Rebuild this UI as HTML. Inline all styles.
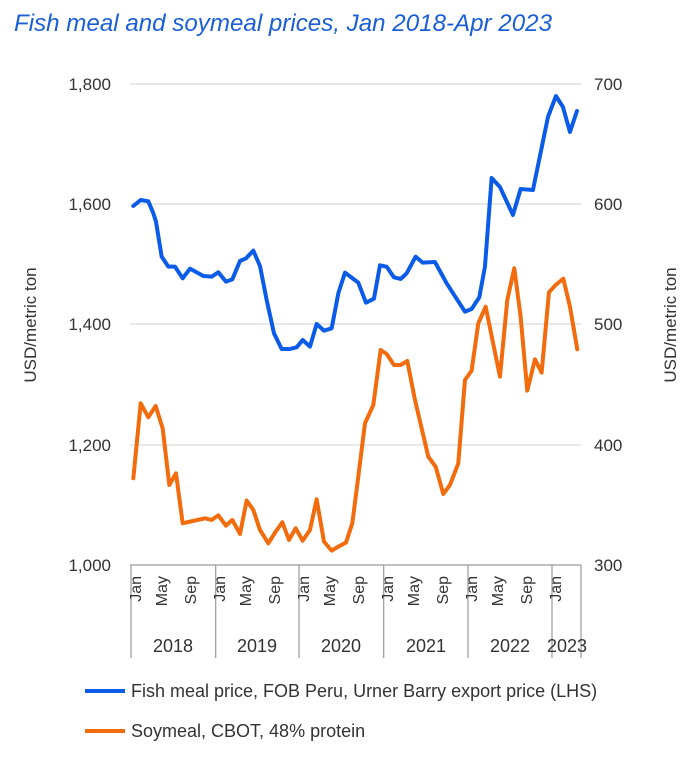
<!DOCTYPE html>
<html><head><meta charset="utf-8"><style>
body{margin:0;background:#fff;width:696px;height:756px;overflow:hidden}
svg text{font-family:"Liberation Sans",sans-serif;fill:#333}
</style></head><body>
<svg width="696" height="756" viewBox="0 0 696 756" xmlns="http://www.w3.org/2000/svg">
<text x="14" y="31" textLength="538" lengthAdjust="spacingAndGlyphs" style="font-size:24px;font-style:italic;fill:#1a5fd6">Fish meal and soymeal prices, Jan 2018-Apr 2023</text>
<g stroke="#d9d9d9" stroke-width="1.2">
<line x1="130" y1="84" x2="581" y2="84"/>
<line x1="130" y1="204" x2="581" y2="204"/>
<line x1="130" y1="324" x2="581" y2="324"/>
<line x1="130" y1="445" x2="581" y2="445"/>
</g>
<g stroke="#999" stroke-width="1.2">
<line x1="130" y1="565" x2="581" y2="565"/>
<line x1="131" y1="565" x2="131" y2="658"/>
<line x1="215.7" y1="565" x2="215.7" y2="658"/>
<line x1="299" y1="565" x2="299" y2="658"/>
<line x1="383.7" y1="565" x2="383.7" y2="658"/>
<line x1="468" y1="565" x2="468" y2="658"/>
<line x1="552" y1="565" x2="552" y2="658"/>
<line x1="581" y1="565" x2="581" y2="658"/>
</g>
<g style="font-size:17px" text-anchor="end">
<text x="111" y="90">1,800</text><text x="111" y="210">1,600</text><text x="111" y="330">1,400</text><text x="111" y="451">1,200</text><text x="111" y="571">1,000</text>
</g>
<g style="font-size:17px">
<text x="594" y="90">700</text><text x="594" y="210">600</text><text x="594" y="330">500</text><text x="594" y="451">400</text><text x="594" y="571">300</text>
</g>
<text transform="translate(36,325) rotate(-90)" text-anchor="middle" style="font-size:17px">USD/metric ton</text>
<text transform="translate(676,325) rotate(-90)" text-anchor="middle" style="font-size:17px">USD/metric ton</text>
<g style="font-size:16px" text-anchor="end">
<text transform="translate(141,576) rotate(-90)">Jan</text><text transform="translate(167,576) rotate(-90)">May</text><text transform="translate(196,576) rotate(-90)">Sep</text>
<text transform="translate(225,576) rotate(-90)">Jan</text><text transform="translate(251,576) rotate(-90)">May</text><text transform="translate(280,576) rotate(-90)">Sep</text>
<text transform="translate(309,576) rotate(-90)">Jan</text><text transform="translate(335,576) rotate(-90)">May</text><text transform="translate(364,576) rotate(-90)">Sep</text>
<text transform="translate(393,576) rotate(-90)">Jan</text><text transform="translate(419,576) rotate(-90)">May</text><text transform="translate(448,576) rotate(-90)">Sep</text>
<text transform="translate(477,576) rotate(-90)">Jan</text><text transform="translate(503,576) rotate(-90)">May</text><text transform="translate(532,576) rotate(-90)">Sep</text>
<text transform="translate(561,576) rotate(-90)">Jan</text>
</g>
<g style="font-size:18px" text-anchor="middle">
<text x="173" y="652">2018</text><text x="257" y="652">2019</text><text x="341" y="652">2020</text><text x="426" y="652">2021</text><text x="510" y="652">2022</text><text x="567" y="652">2023</text>
</g>
<g transform="translate(120,160) scale(0.3333)" fill="none" stroke-width="12" stroke-linejoin="round" stroke-linecap="round">
<polyline stroke="#0a5ce8" points="40,138 62,120 85,124 100,160 108,185 125,290 145,320 165,320 188,355 210,326 250,348 275,350 295,337 318,365 337,358 360,303 378,295 400,272 420,318 440,420 462,520 485,567 510,567 530,562 548,540 570,560 590,492 612,512 635,505 655,400 675,338 715,368 738,428 762,416 780,316 800,320 822,352 842,357 860,340 887,290 908,308 945,306 980,370 1035,455 1055,447 1078,412 1095,320 1115,54 1140,81 1179,165 1202,87 1239,90 1284,-129 1308,-192 1329,-159 1350,-84 1371,-147"/>
<polyline stroke="#f26c0d" points="40,955 62,730 85,772 107,738 128,805 148,975 168,940 188,1090 210,1085 255,1075 275,1080 295,1066 318,1097 337,1080 360,1122 380,1022 400,1050 420,1110 445,1150 465,1118 487,1087 507,1140 527,1105 548,1142 570,1110 590,1018 612,1145 635,1172 655,1160 678,1148 697,1090 715,950 735,790 760,735 782,570 800,582 822,615 842,615 862,603 885,720 925,890 947,920 970,1002 990,975 1015,910 1035,660 1055,632 1075,490 1097,440 1140,650 1162,420 1183,325 1202,470 1222,692 1245,598 1265,638 1287,397 1307,375 1330,356 1350,440 1372,568"/>
</g>
<line x1="85" y1="691" x2="125" y2="691" stroke="#0a5ce8" stroke-width="4"/>
<text x="131" y="697" style="font-size:18px">Fish meal price, FOB Peru, Urner Barry export price (LHS)</text>
<line x1="85" y1="731" x2="125" y2="731" stroke="#f26c0d" stroke-width="4"/>
<text x="131" y="737" style="font-size:18px">Soymeal, CBOT, 48% protein</text>
</svg>
</body></html>
